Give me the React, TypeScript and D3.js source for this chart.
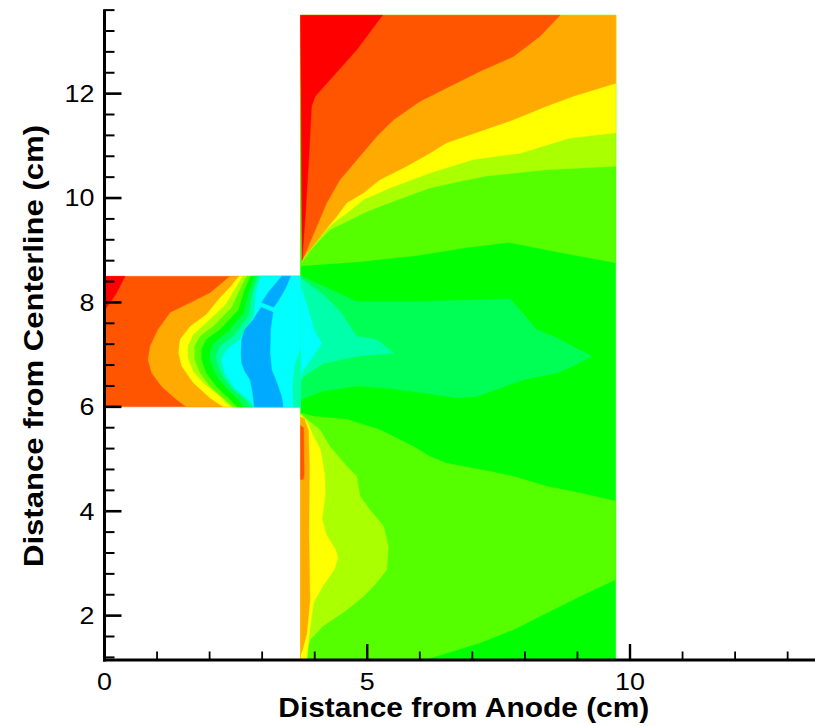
import React from 'react';
import * as d3 from 'd3';

type P = [number, number];

// ---------- axes ----------
const X_DOMAIN: P = [0, 13.6];
const Y_DOMAIN: P = [1.15, 13.6];
const X_MAJOR = [0, 5, 10];
const X_MINOR = [1, 2, 3, 4, 6, 7, 8, 9, 11, 12, 13];
const Y_MAJOR = [2, 4, 6, 8, 10, 12];
const X_TITLE = 'Distance from Anode (cm)';
const Y_TITLE = 'Distance from Centerline (cm)';

// ---------- geometry of the computational domain ----------
const LEFT_BLOCK: P[] = [[0, 6], [3.73, 6], [3.73, 8.5], [0, 8.5]];
const RIGHT_BLOCK: P[] = [[3.73, 1.15], [9.73, 1.15], [9.73, 13.5], [3.73, 13.5]];

// ---------- contour boundaries: upper right block (region above line) ----------
const UR_LIGHTGREEN: P[] = [[3.73, 8.7], [4.85, 8.78], [5.95, 8.9], [6.9, 9.05], [7.7, 9.15], [8.7, 8.95], [9.73, 8.76]];
const UR_YELLOWGREEN: P[] = [[3.76, 8.78], [3.91, 8.98], [4.1, 9.2], [4.29, 9.39], [4.61, 9.55], [4.93, 9.71], [5.24, 9.84], [5.75, 10.03], [6.19, 10.19], [6.77, 10.32], [7.27, 10.42], [8.41, 10.54], [9.73, 10.61]];
const UR_YELLOW: P[] = [[3.76, 8.8], [3.85, 8.95], [4.1, 9.27], [4.35, 9.52], [4.61, 9.71], [4.93, 9.97], [5.43, 10.19], [6.19, 10.48], [7.02, 10.74], [7.91, 10.86], [8.86, 11.15], [9.73, 11.25]];
const UR_ORANGE: P[] = [[3.76, 8.82], [3.91, 9.01], [4.16, 9.33], [4.42, 9.65], [4.61, 9.91], [4.93, 10.1], [5.24, 10.35], [5.75, 10.61], [6.19, 10.86], [6.51, 11.06], [7.15, 11.28], [7.78, 11.5], [8.41, 11.76], [8.92, 11.95], [9.73, 12.2]];
const UR_ORANGERED: P[] = [[3.76, 8.8], [3.85, 9.01], [4.04, 9.46], [4.23, 9.91], [4.48, 10.35], [4.86, 10.8], [5.18, 11.18], [5.5, 11.5], [6.0, 11.85], [6.51, 12.11], [7.15, 12.43], [7.78, 12.71], [8.29, 13.1], [8.67, 13.5]];
const UR_RED: P[] = [[3.76, 8.82], [3.82, 9.65], [3.88, 10.61], [3.94, 11.76], [4.01, 11.95], [4.8, 12.84], [5.29, 13.5]];

// ---------- jet core (closed patches) ----------
const MID_SPRING: P[] = [[3.73, 8.51], [4.16, 8.31], [4.8, 8.02], [6.07, 8.02], [7.72, 8.07], [8.22, 7.48], [8.61, 7.32], [9.27, 6.97], [8.92, 6.78], [8.61, 6.65], [7.97, 6.52], [7.46, 6.33], [7.08, 6.2], [6.7, 6.17], [6.07, 6.27], [5.43, 6.35], [4.8, 6.4], [4.16, 6.3], [3.73, 6.14]];
const MID_AQUA: P[] = [[3.73, 8.47], [4.16, 8.15], [4.48, 7.83], [4.8, 7.35], [5.18, 7.29], [5.5, 7.03], [4.8, 6.97], [4.16, 6.83], [3.78, 6.58], [3.73, 6.46]];
const MID_CYAN: P[] = [[3.73, 8.34], [3.85, 7.93], [4.01, 7.42], [4.13, 7.22], [3.97, 6.97], [3.78, 6.71], [3.73, 6.52]];

// ---------- lower right block ----------
const LR_LIGHTGREEN: P[] = [[3.73, 5.88], [3.97, 5.82], [4.61, 5.76], [5.24, 5.56], [5.88, 5.24], [6.19, 5.05], [6.51, 4.92], [7.15, 4.8], [7.78, 4.67], [8.41, 4.48], [9.05, 4.35], [9.73, 4.19], [9.73, 2.69], [9.05, 2.37], [8.41, 2.05], [7.78, 1.73], [7.15, 1.48], [6.51, 1.28], [6.07, 1.15]];
const LR_YELLOWGREEN: P[] = [[3.73, 5.87], [3.78, 5.82], [4.1, 5.56], [4.29, 5.24], [4.61, 4.86], [4.8, 4.67], [4.86, 4.29], [5.05, 4.03], [5.31, 3.71], [5.4, 3.33], [5.37, 2.88], [5.18, 2.63], [4.93, 2.37], [4.61, 2.11], [4.16, 1.8], [3.91, 1.54], [3.82, 1.15]];
const LR_YELLOW: P[] = [[3.73, 5.86], [3.85, 5.72], [3.97, 5.45], [4.11, 5.18], [4.19, 4.7], [4.2, 4.3], [4.14, 3.85], [4.22, 3.55], [4.4, 3.26], [4.44, 3.1], [4.37, 2.88], [4.15, 2.56], [3.98, 2.25], [3.9, 1.7], [3.85, 1.15]];
const LR_ORANGE: P[] = [[3.73, 5.8], [3.8, 5.78], [3.88, 5.55], [3.9, 4.86], [3.89, 3.58], [3.91, 2.31], [3.85, 1.66], [3.77, 1.35], [3.73, 1.25]];
const LR_ORANGERED: P[] = [[3.73, 5.64], [3.79, 5.6], [3.8, 4.7], [3.78, 4.61], [3.73, 4.61]];

// ---------- left (anode) block: region right of each line ----------
const L_RED: P[] = [[0, 8.5], [0.39, 8.5], [0.23, 8.18], [0.01, 7.86], [0, 7.86]];
const L_ORANGE: P[] = [[2.39, 8.5], [2.01, 8.18], [1.63, 7.99], [1.25, 7.8], [1.02, 7.48], [0.87, 7.16], [0.83, 6.9], [0.9, 6.65], [1.09, 6.39], [1.37, 6.14], [1.56, 6.0]];
const L_YELLOW: P[] = [[2.56, 8.5], [2.4, 8.3], [2.2, 8.09], [1.94, 7.77], [1.63, 7.54], [1.44, 7.29], [1.41, 7.03], [1.47, 6.78], [1.69, 6.46], [2.01, 6.17], [2.26, 6.0]];
const L_YELLOWGREEN: P[] = [[2.63, 8.5], [2.5, 8.28], [2.3, 7.95], [1.94, 7.61], [1.69, 7.38], [1.59, 7.16], [1.59, 6.94], [1.69, 6.68], [1.88, 6.46], [2.2, 6.2], [2.39, 6.0]];
const L_LIGHTGREEN: P[] = [[2.7, 8.5], [2.58, 8.25], [2.42, 7.9], [2.07, 7.54], [1.82, 7.35], [1.72, 7.16], [1.72, 6.9], [1.82, 6.65], [2.01, 6.39], [2.26, 6.17], [2.45, 6.0]];
const L_GREEN: P[] = [[2.78, 8.5], [2.66, 8.22], [2.55, 7.85], [2.2, 7.48], [1.94, 7.29], [1.85, 7.1], [1.85, 6.9], [1.94, 6.65], [2.13, 6.39], [2.39, 6.14], [2.52, 6.0]];
const L_SPRING: P[] = [[2.86, 8.5], [2.75, 8.2], [2.65, 7.8], [2.33, 7.42], [2.07, 7.22], [2.01, 7.03], [2.01, 6.9], [2.1, 6.65], [2.29, 6.39], [2.55, 6.14], [2.64, 6.0]];
const L_AQUA: P[] = [[2.92, 8.5], [2.82, 8.2], [2.75, 7.75], [2.45, 7.35], [2.2, 7.16], [2.13, 6.97], [2.17, 6.78], [2.26, 6.58], [2.42, 6.36], [2.71, 6.11], [2.77, 6.0]];
const L_CYAN: P[] = [[2.97, 8.5], [2.88, 8.2], [2.85, 7.75], [2.58, 7.29], [2.33, 7.1], [2.23, 6.9], [2.29, 6.65], [2.45, 6.39], [2.77, 6.11], [2.86, 6.0]];
const L_SKY_STRIP: P[] = [[3.37, 8.5], [3.54, 8.5], [3.45, 8.28], [3.3, 8.02], [3.22, 7.91], [2.99, 8.0], [3.13, 8.21], [3.32, 8.44]];
const L_SKY_CORE: P[] = [[2.98, 7.91], [2.83, 7.67], [2.67, 7.48], [2.61, 7.29], [2.6, 7.03], [2.61, 6.84], [2.67, 6.68], [2.77, 6.52], [2.82, 6.27], [2.85, 6.0], [3.4, 6.0], [3.37, 6.2], [3.28, 6.46], [3.18, 6.71], [3.15, 7.03], [3.16, 7.48], [3.2, 7.77], [3.21, 7.81]];
const L_AQUA_EDGE: P[] = [[3.73, 7.1], [3.62, 6.8], [3.58, 6.4], [3.6, 6.0], [3.73, 6.0]];

const COLORS = {
  red: '#ff0000',
  orangeRed: '#ff5500',
  orange: '#ffaa00',
  yellow: '#ffff00',
  yellowGreen: '#aaff00',
  lightGreen: '#55ff00',
  green: '#00ff00',
  spring: '#00ff55',
  aqua: '#00ffaa',
  cyan: '#00ffff',
  sky: '#00aaff',
};

const W = 815;
const H = 726;

export default function App() {
  const xs = d3.scaleLinear().domain(X_DOMAIN).range([104.5, 104.5 + 13.6 * 52.55]);
  const ys = d3.scaleLinear().domain(Y_DOMAIN).range([660, 660 - (13.6 - 1.15) * 52.2]);
  const line = d3.line<P>().x((d) => xs(d[0])).y((d) => ys(d[1]));
  const poly = (pts: P[]) => (line(pts) || '') + 'Z';

  const RX0 = 3.73, RX1 = 9.73, RTOP = 13.5;
  const closeTop = (pts: P[]): P[] => {
    const last = pts[pts.length - 1];
    const out = pts.slice();
    if (last[0] >= RX1 - 1e-6) out.push([RX1, RTOP]);
    out.push([RX0, RTOP]);
    return out;
  };
  const closeBottom = (pts: P[]): P[] => [...pts, [RX0, Y_DOMAIN[0]]];
  const closeLeft = (pts: P[]): P[] => [...pts, [3.73, 6.0], [3.73, 8.5]];

  const layers: { pts: P[]; color: string }[] = [
    { pts: RIGHT_BLOCK, color: COLORS.green },
    { pts: closeTop(UR_LIGHTGREEN), color: COLORS.lightGreen },
    { pts: closeTop(UR_YELLOWGREEN), color: COLORS.yellowGreen },
    { pts: closeTop(UR_YELLOW), color: COLORS.yellow },
    { pts: closeTop(UR_ORANGE), color: COLORS.orange },
    { pts: closeTop(UR_ORANGERED), color: COLORS.orangeRed },
    { pts: closeTop(UR_RED), color: COLORS.red },
    { pts: MID_SPRING, color: COLORS.spring },
    { pts: MID_AQUA, color: COLORS.aqua },
    { pts: MID_CYAN, color: COLORS.cyan },
    { pts: closeBottom(LR_LIGHTGREEN), color: COLORS.lightGreen },
    { pts: closeBottom(LR_YELLOWGREEN), color: COLORS.yellowGreen },
    { pts: closeBottom(LR_YELLOW), color: COLORS.yellow },
    { pts: closeBottom(LR_ORANGE), color: COLORS.orange },
    { pts: LR_ORANGERED, color: COLORS.orangeRed },
    { pts: LEFT_BLOCK, color: COLORS.orangeRed },
    { pts: L_RED, color: COLORS.red },
    { pts: closeLeft(L_ORANGE), color: COLORS.orange },
    { pts: closeLeft(L_YELLOW), color: COLORS.yellow },
    { pts: closeLeft(L_YELLOWGREEN), color: COLORS.yellowGreen },
    { pts: closeLeft(L_LIGHTGREEN), color: COLORS.lightGreen },
    { pts: closeLeft(L_GREEN), color: COLORS.green },
    { pts: closeLeft(L_SPRING), color: COLORS.spring },
    { pts: closeLeft(L_AQUA), color: COLORS.aqua },
    { pts: closeLeft(L_CYAN), color: COLORS.cyan },
    { pts: L_AQUA_EDGE, color: COLORS.aqua },
    { pts: L_SKY_STRIP, color: COLORS.sky },
    { pts: L_SKY_CORE, color: COLORS.sky },
  ];

  const yMinor = d3.range(1.2, 13.61, 0.4).filter((v) => !Y_MAJOR.some((m) => Math.abs(m - v) < 1e-6));
  const axisX = xs(0);
  const axisY = ys(Y_DOMAIN[0]);
  const font = 'Arial, "Liberation Sans", Helvetica, sans-serif';

  return (
    <svg width={W} height={H} style={{ position: 'absolute', left: 0, top: 0, background: '#fff' }}>
      <rect width={W} height={H} fill="#fff" />
      <g>
        {layers.map((l, i) => (
          <path key={i} d={poly(l.pts)} fill={l.color} stroke={l.color} strokeWidth={0.4} />
        ))}
      </g>
      {/* axes */}
      <g stroke="#000" strokeLinecap="butt">
        <line x1={axisX} x2={axisX} y1={ys(13.6) - 0.8} y2={axisY + 1.5} strokeWidth={3} />
        <line x1={axisX - 1.5} x2={W} y1={axisY} y2={axisY} strokeWidth={3} />
        {Y_MAJOR.map((v) => (
          <line key={'ym' + v} x1={axisX} x2={axisX + 17} y1={ys(v)} y2={ys(v)} strokeWidth={2.6} />
        ))}
        {yMinor.map((v) => (
          <line key={'yn' + v} x1={axisX} x2={axisX + 10} y1={ys(v)} y2={ys(v)} strokeWidth={2} />
        ))}
        {X_MAJOR.filter((v) => v > 0).map((v) => (
          <line key={'xm' + v} x1={xs(v)} x2={xs(v)} y1={axisY} y2={axisY - 16} strokeWidth={2.4} />
        ))}
        {X_MINOR.map((v) => (
          <line key={'xn' + v} x1={xs(v)} x2={xs(v)} y1={axisY} y2={axisY - 8.5} strokeWidth={1.8} />
        ))}
      </g>
      <g fontFamily={font} fontSize={24} fill="#000">
        {Y_MAJOR.map((v) => (
          <text key={'yl' + v} transform={`translate(94.5,${ys(v)}) scale(1.12,1)`} textAnchor="end" dy="0.35em">
            {v}
          </text>
        ))}
        {X_MAJOR.map((v) => (
          <text key={'xl' + v} transform={`translate(${xs(v)},689.5) scale(1.12,1)`} textAnchor="middle">
            {v}
          </text>
        ))}
      </g>
      <text
        x={463.8}
        y={717}
        textAnchor="middle"
        fontFamily={font}
        fontWeight="bold"
        fontSize={28}
        textLength={371}
        lengthAdjust="spacingAndGlyphs"
      >
        {X_TITLE}
      </text>
      <text
        transform={`translate(43,346) rotate(-90)`}
        textAnchor="middle"
        fontFamily={font}
        fontWeight="bold"
        fontSize={28}
        textLength={442}
        lengthAdjust="spacingAndGlyphs"
      >
        {Y_TITLE}
      </text>
    </svg>
  );
}
